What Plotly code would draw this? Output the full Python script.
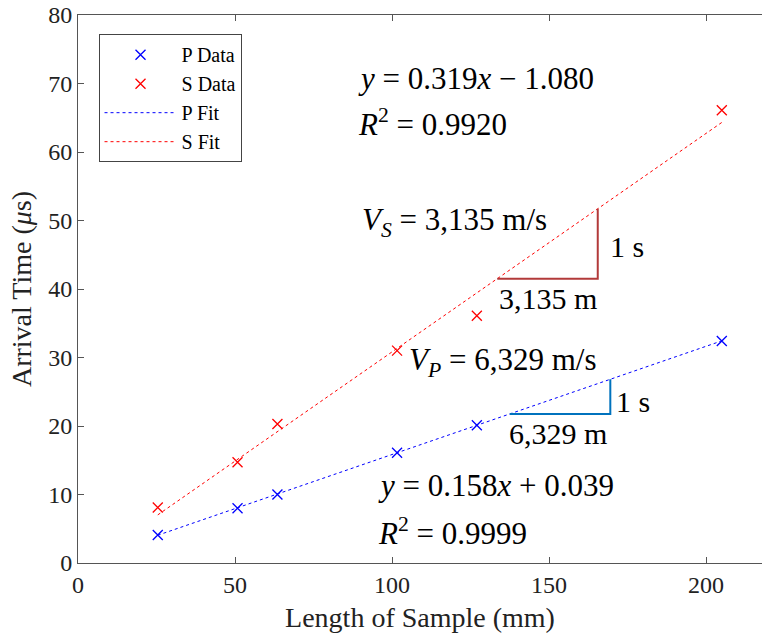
import numpy as np
import plotly.graph_objects as go

# ---- data ----
length_mm = [25.4, 50.8, 63.5, 101.6, 127.0, 205.0]
p_time = [4.1, 8.0, 10.0, 16.1, 20.1, 32.4]
s_time = [8.1, 14.7, 20.3, 31.0, 36.1, 66.1]
p_fit = [0.158, 0.039]   # slope, intercept
s_fit = [0.319, -1.080]
x_ticks = [0, 50, 100, 150, 200]
y_ticks = [0, 10, 20, 30, 40, 50, 60, 70, 80]
tri_start = {"P": 137.5, "S": 133.5}
tri_run = 32.0

FONT = "Liberation Serif"
BLUE = "#0000FF"
RED = "#FF0000"

fig = go.Figure()
fig.add_trace(go.Scatter(x=length_mm, y=p_time, mode="markers", name="P Data",
                         marker=dict(symbol="x-thin", size=10, line=dict(color=BLUE, width=1.3))))
fig.add_trace(go.Scatter(x=length_mm, y=s_time, mode="markers", name="S Data",
                         marker=dict(symbol="x-thin", size=10, line=dict(color=RED, width=1.3))))
xf = np.array([length_mm[0], length_mm[-1]])
fig.add_trace(go.Scatter(x=xf, y=p_fit[0] * xf + p_fit[1], mode="lines", name="P Fit",
                         line=dict(color=BLUE, width=1, dash="3px,3px")))
fig.add_trace(go.Scatter(x=xf, y=s_fit[0] * xf + s_fit[1], mode="lines", name="S Fit",
                         line=dict(color=RED, width=1, dash="3px,3px")))

# slope triangles
for key, fit, col in [("S", s_fit, "#B23A3A"), ("P", p_fit, "#0072BD")]:
    x0 = tri_start[key]
    x1 = x0 + tri_run
    y0 = fit[0] * x0 + fit[1]
    y1 = y0 + fit[0] * tri_run
    fig.add_trace(go.Scatter(x=[x0, x1, x1], y=[y0, y0, y1], mode="lines", showlegend=False,
                             line=dict(color=col, width=2), hoverinfo="skip"))

def px2x(px):
    return (px - 78.5) / 3.14

def px2y(py):
    return (563 - py) / 6.85

texts = [
    ("<i>y</i> = 0.319<i>x</i> \u2212 1.080", 356, 78, 31),
    ("<i>R</i><sup>2</sup> = 0.9920", 356, 122, 31),
    ("<i>V<sub>S</sub></i> = 3,135 m/s", 360, 222, 31),
    ("1 s", 608, 246, 30),
    ("3,135 m", 497, 298, 30),
    ("<i>V<sub>P</sub></i> = 6,329 m/s", 407, 362, 31),
    ("1 s", 614, 401, 30),
    ("6,329 m", 507, 433, 30),
    ("<i>y</i> = 0.158<i>x</i> + 0.039", 376, 485, 31),
    ("<i>R</i><sup>2</sup> = 0.9999", 376, 531, 31),
]
for t, px, py, fs in texts:
    fig.add_annotation(x=px2x(px), y=px2y(py), text=t, showarrow=False, xanchor="left",
                       yanchor="middle", font=dict(family=FONT, size=fs, color="black"))

axis_common = dict(showgrid=False, zeroline=False, linecolor="#555555", linewidth=1,
                   ticks="inside", ticklen=6, tickcolor="#555555",
                   tickfont=dict(family=FONT, size=24, color="#222222"))
fig.update_xaxes(range=[0, 217.8], tickvals=x_ticks, mirror="ticks",
                 title=dict(text="Length of Sample (mm)", font=dict(family=FONT, size=28, color="#222222"),
                            standoff=10), **axis_common)
fig.update_yaxes(range=[0, 80], tickvals=y_ticks, mirror=False,
                 title=dict(text="Arrival Time (<i>\u03bc</i>s)", font=dict(family=FONT, size=28, color="#222222"),
                            standoff=8), **axis_common)

fig.update_layout(
    width=762, height=639,
    margin=dict(l=78, r=0, t=15, b=76),
    plot_bgcolor="white", paper_bgcolor="white",
    legend=dict(x=0.03, y=0.965, xanchor="left", yanchor="top", bgcolor="white",
                bordercolor="#444444", borderwidth=1, itemwidth=72,
                font=dict(family=FONT, size=20, color="black"), tracegroupgap=0),
)

fig.write_html("out.html")
